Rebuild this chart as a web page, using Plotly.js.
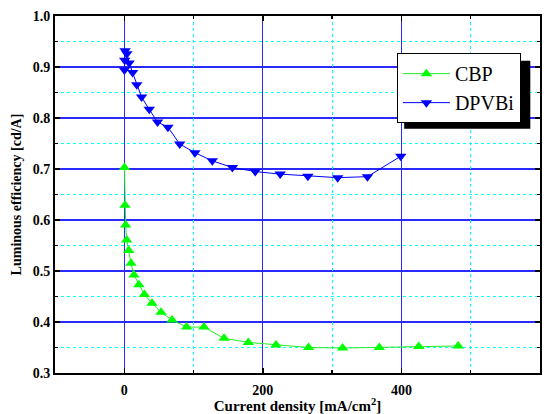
<!DOCTYPE html>
<html><head><meta charset="utf-8">
<script src="https://cdn.plot.ly/plotly-3.0.1.min.js"></script>
<style>html,body{margin:0;padding:0;background:#fff}#chart{width:549px;height:414px}</style>
</head><body><div id="chart"></div>
<script>
const cbpX = [0.3, 1, 2, 3.5, 6.4, 9.7, 14, 21, 29, 40, 53, 69, 90, 115, 144, 179, 219, 266, 315, 368, 425, 482];
const cbpY = [0.703, 0.629, 0.590, 0.561, 0.540, 0.515, 0.492, 0.473, 0.454, 0.437, 0.419, 0.404, 0.390, 0.390, 0.368, 0.360, 0.355, 0.350, 0.349, 0.350, 0.352, 0.353];
const dpvX = [0.2, 0.6, 1.2, 3.8, 7, 12, 18, 25, 36, 48, 63, 80, 102, 127, 156, 189, 225, 265, 308, 351, 399];
const dpvY = [0.894, 0.913, 0.932, 0.926, 0.908, 0.889, 0.865, 0.841, 0.817, 0.792, 0.782, 0.749, 0.732, 0.716, 0.703, 0.695, 0.690, 0.686, 0.683, 0.685, 0.725];
const seriesNames = ["CBP", "DPVBi"];
const xTitle = "Current density [mA/cm<sup>2</sup>]";
const yTitle = "Luminous efficiency [cd/A]";

const serif = "Times New Roman";
const traces = [
  {x: cbpX, y: cbpY, name: seriesNames[0], mode: "lines+markers", type: "scatter",
   line: {color: "#22ee22", width: 1}, marker: {symbol: "triangle-up", size: 10, color: "#00ff00"}},
  {x: dpvX, y: dpvY, name: seriesNames[1], mode: "lines+markers", type: "scatter",
   line: {color: "#0000ff", width: 1}, marker: {symbol: "triangle-down", size: 10, color: "#0000ff"}},
  {x: [0], y: [0.5], xaxis: "x2", yaxis: "y2", mode: "markers", marker: {opacity: 0}, showlegend: false, hoverinfo: "skip"}
];
const axisCommon = {
  showline: true, linecolor: "#000", linewidth: 2, mirror: "allticks",
  ticks: "inside", ticklen: 5, tickwidth: 1.5, tickcolor: "#000",
  showgrid: true, gridcolor: "#2a2aff", gridwidth: 1.2, zeroline: false,
  tickfont: {family: serif, size: 14, color: "#000", weight: "bold"}
};
const gridAxis = {showline: false, ticks: "", showticklabels: false, zeroline: false,
  showgrid: true, gridcolor: "#00ffff", griddash: "dot", gridwidth: 1.2};
const layout = {
  width: 549, height: 414,
  margin: {l: 55, r: 9, t: 16, b: 41},
  paper_bgcolor: "#fff", plot_bgcolor: "#fff",
  font: {family: serif, color: "#000"},
  showlegend: true,
  legend: {x: 0.705, y: 0.896, xanchor: "left", yanchor: "top",
    bgcolor: "#fff", bordercolor: "#000", borderwidth: 1,
    font: {family: serif, size: 20, color: "#000"}, itemwidth: 47, tracegroupgap: 0},
  xaxis: Object.assign({}, axisCommon, {
    range: [-100, 600], dtick: 200, tick0: 0, ticklabelstandoff: 3,
    minor: {dtick: 100, ticks: "inside", ticklen: 3, tickcolor: "#000", showgrid: false},
    title: {text: xTitle, font: {family: serif, size: 15, color: "#000", weight: "bold"}, standoff: 3}
  }),
  yaxis: Object.assign({}, axisCommon, {
    range: [0.3, 1.0], dtick: 0.1, tick0: 0.3, tickformat: ".1f",
    minor: {dtick: 0.05, ticks: "inside", ticklen: 3, tickcolor: "#000", showgrid: false},
    title: {text: yTitle, font: {family: serif, size: 14, color: "#000", weight: "bold"}, standoff: 8}
  }),
  xaxis2: Object.assign({}, gridAxis, {overlaying: "x", range: [-100, 600], tick0: 100, dtick: 200}),
  yaxis2: Object.assign({}, gridAxis, {overlaying: "y", range: [0.3, 1.0], tick0: 0.35, dtick: 0.1}),
  shapes: [
    {type: "rect", xref: "paper", yref: "paper", layer: "above",
     x0: 0.72, x1: 0.98, y0: 0.684, y1: 0.875,
     fillcolor: "#000", line: {width: 0}}
  ]
};
Plotly.newPlot("chart", traces, layout, {displayModeBar: false, staticPlot: true});
</script></body></html>
